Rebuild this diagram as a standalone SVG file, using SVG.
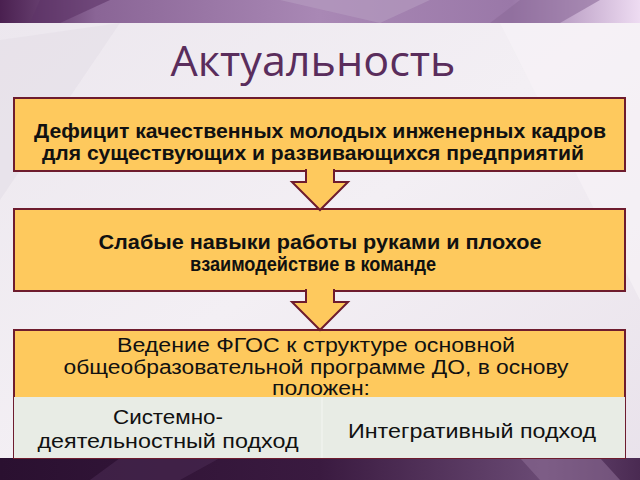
<svg xmlns="http://www.w3.org/2000/svg" width="640" height="480" viewBox="0 0 640 480">
<defs>
<linearGradient id="top" x1="0" y1="0" x2="1" y2="0">
<stop offset="0" stop-color="#4a2050"/>
<stop offset="0.15" stop-color="#8a6596"/>
<stop offset="0.5" stop-color="#a988b5"/>
<stop offset="0.8" stop-color="#9a78a8"/>
<stop offset="1" stop-color="#eedcf2"/>
</linearGradient>
<linearGradient id="bot" x1="0" y1="0" x2="1" y2="0">
<stop offset="0" stop-color="#2a1030"/>
<stop offset="0.5" stop-color="#3a1a40"/>
<stop offset="0.85" stop-color="#6a4a74"/>
<stop offset="1" stop-color="#4a2a52"/>
</linearGradient>
<linearGradient id="panel" x1="0" y1="0" x2="1" y2="1">
<stop offset="0" stop-color="#ece7ee"/>
<stop offset="0.5" stop-color="#f3eff4"/>
<stop offset="1" stop-color="#e9e2eb"/>
</linearGradient>
<style>
.box{fill:#fec95d;stroke:#6e1c2e;stroke-width:2}
.arrow{fill:#fec95d;stroke:#6e1c2e;stroke-width:2;stroke-linejoin:miter}
.t{font-family:"Liberation Sans",Arial,sans-serif;font-size:20px;fill:#111;text-anchor:middle}
.b{font-weight:bold}
.title{font-family:"Open Sans","Noto Sans",sans-serif;font-size:42px;fill:#5a2d5c;text-anchor:middle}
</style>
</defs>
<rect x="0" y="0" width="640" height="480" fill="url(#panel)"/>
<rect x="0" y="0" width="640" height="23" fill="url(#top)"/>
<polygon points="40,0 110,0 60,23 30,23" fill="#5e3468" opacity="0.6"/>
<polygon points="280,0 430,0 380,23" fill="#b59cc0" opacity="0.6"/>
<polygon points="520,0 600,0 560,23 490,23" fill="#8c6a9a" opacity="0.6"/>
<polygon points="0,40 120,23 0,200" fill="#e6dfe8" opacity="0.7"/>
<polygon points="500,23 640,23 640,300" fill="#f6f2f7" opacity="0.7"/>
<rect x="0" y="458" width="640" height="22" fill="url(#bot)"/>
<polygon points="120,458 220,458 180,480 90,480" fill="#4a2a52" opacity="0.6"/>
<polygon points="520,458 600,458 620,480 540,480" fill="#8a6a92" opacity="0.6"/>

<text class="title" x="313" y="76" textLength="285" lengthAdjust="spacingAndGlyphs">Актуальность</text>

<g id="box1">
<rect class="box" x="14" y="98" width="611" height="73"/>
<text class="t b" x="320" y="138" textLength="572" lengthAdjust="spacingAndGlyphs">Дефицит качественных молодых инженерных кадров</text>
<text class="t b" x="313" y="160" textLength="542" lengthAdjust="spacingAndGlyphs">для существующих и развивающихся предприятий</text>
</g>

<g id="box2">
<rect class="box" x="14" y="209" width="611" height="82"/>
<text class="t b" x="320" y="249" textLength="443" lengthAdjust="spacingAndGlyphs">Слабые навыки работы  руками и плохое</text>
<text class="t b" x="313" y="271" textLength="246" lengthAdjust="spacingAndGlyphs">взаимодействие в команде</text>
</g>

<g id="box3">
<rect class="box" x="14" y="330" width="611" height="128"/>
<text class="t" x="316" y="352" textLength="398" lengthAdjust="spacingAndGlyphs">Ведение ФГОС к структуре  основной</text>
<text class="t" x="316" y="374" textLength="505" lengthAdjust="spacingAndGlyphs">общеобразовательной программе ДО,  в основу</text>
<text class="t" x="321" y="395" textLength="98" lengthAdjust="spacingAndGlyphs">положен:</text>
</g>

<g id="approaches">
<rect x="14" y="397" width="611" height="61" fill="#e8ece5"/>
<line x1="322" y1="397" x2="322" y2="458" stroke="#f4f6f2" stroke-width="1"/>
<text class="t" x="168" y="424" textLength="110" lengthAdjust="spacingAndGlyphs">Системно-</text>
<text class="t" x="168" y="448" textLength="261" lengthAdjust="spacingAndGlyphs">деятельностный подход</text>
<text class="t" x="472" y="438" textLength="248" lengthAdjust="spacingAndGlyphs">Интегративный подход</text>
</g>

<g id="connectors">
<polygon class="arrow" points="306,170 334,170 334,182 348,182 320,210 292,182 306,182"/>
<polygon class="arrow" points="306,290 334,290 334,302 348,302 320,330 292,302 306,302"/>
<rect x="307" y="168" width="26" height="6" fill="#fec95d"/>
<rect x="307" y="288" width="26" height="6" fill="#fec95d"/>
</g>
</svg>
